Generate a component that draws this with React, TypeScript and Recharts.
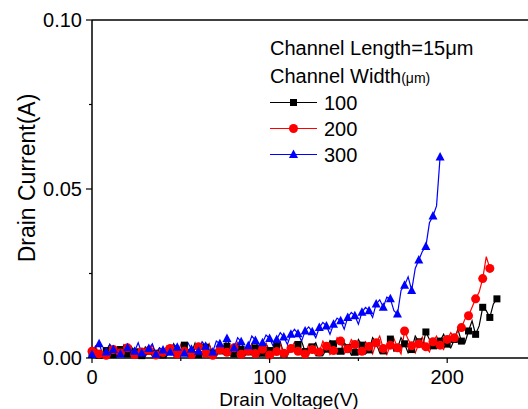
import React from "react";
import { LineChart, Line, XAxis, YAxis } from "recharts";

// drain voltage (V), shared sweep in 2 V steps
const voltage = [
  0, 2, 4, 6, 8, 10, 12, 14, 16, 18, 20, 22, 24, 26, 28, 30, 32, 34, 36, 38,
  40, 42, 44, 46, 48, 50, 52, 54, 56, 58, 60, 62, 64, 66, 68, 70, 72, 74, 76, 78,
  80, 82, 84, 86, 88, 90, 92, 94, 96, 98, 100, 102, 104, 106, 108, 110, 112, 114,
  116, 118, 120, 122, 124, 126, 128, 130, 132, 134, 136, 138, 140, 142, 144, 146,
  148, 150, 152, 154, 156, 158, 160, 162, 164, 166, 168, 170, 172, 174, 176, 178,
  180, 182, 184, 186, 188, 190, 192, 194, 196, 198, 200, 202, 204, 206, 208, 210,
  212, 214, 216, 218, 220, 222, 224, 226, 228,
];

// drain current (A) for each channel width (um)
const width100 = [
  0.0015, 0.003, 0.0008, 0.0005, 0.0022, 0.004, 0.001, 0.0006, 0.0025, 0.0028,
  0.0012, 0.0035, 0.0018, 0.0004, 0.0007, 0.0033, 0.002, 0.0006, 0.0014, 0.003,
  0.0009, 0.0005, 0.0024, 0.0042, 0.0011, 0.0008, 0.0038, 0.0026, 0.0016, 0.0044,
  0.001, 0.0006, 0.0032, 0.004, 0.0015, 0.0007, 0.0021, 0.0012, 0.0035, 0.003,
  0.0012, 0.0045, 0.0026, 0.0008, 0.0018, 0.004, 0.003, 0.0006, 0.0014, 0.0042,
  0.0022, 0.001, 0.0036, 0.0048, 0.0012, 0.0008, 0.0028, 0.0022, 0.004, 0.005,
  0.0019, 0.001, 0.0033, 0.0045, 0.0015, 0.0008, 0.0026, 0.0052, 0.0042, 0.0012,
  0.002, 0.0046, 0.0031, 0.0009, 0.0017, 0.0055, 0.0038, 0.0012, 0.0024, 0.006,
  0.0045, 0.0015, 0.0021, 0.0035, 0.0056, 0.002, 0.003, 0.006, 0.0042, 0.0015,
  0.0025, 0.0065, 0.0048, 0.003, 0.0077, 0.0055, 0.0036, 0.0028, 0.005, 0.007,
  0.0041, 0.003, 0.0055, 0.0085, 0.005, 0.0045, 0.008, 0.011, 0.007, 0.0095,
  0.015, 0.014, 0.012, 0.016, 0.0175,
];
const width200 = [
  0.002, 0.0035, 0.0012, 0.0006, 0.0008, 0.003, 0.0025, 0.0005, 0.0015, 0.004,
  0.003, 0.0008, 0.001, 0.0028, 0.0018, 0.0004, 0.0022, 0.0038, 0.0009, 0.0006,
  0.0016, 0.0035, 0.0028, 0.0007, 0.0012, 0.004, 0.002, 0.0005, 0.001, 0.003,
  0.0033, 0.0008, 0.0014, 0.0042, 0.0008, 0.0005, 0.0024, 0.0036, 0.0017, 0.0006,
  0.003, 0.0045, 0.0011, 0.0005, 0.0021, 0.0038, 0.0013, 0.0007, 0.0026, 0.0044,
  0.0009, 0.0005, 0.0019, 0.004, 0.0014, 0.0006, 0.0028, 0.0046, 0.002, 0.0008,
  0.0012, 0.004, 0.0025, 0.0007, 0.0018, 0.005, 0.0035, 0.001, 0.0022, 0.006,
  0.005, 0.0012, 0.0027, 0.0055, 0.004, 0.001, 0.002, 0.0048, 0.0034, 0.0012,
  0.0045, 0.0065, 0.0028, 0.001, 0.0038, 0.0058, 0.003, 0.0012, 0.008, 0.0055,
  0.0036, 0.0015, 0.0042, 0.0062, 0.0033, 0.0018, 0.0048, 0.0065, 0.0038, 0.0025,
  0.0055, 0.0075, 0.006, 0.008, 0.009, 0.0115, 0.0125, 0.015, 0.0175, 0.0195,
  0.0235, 0.03, 0.0265,
];
const width300 = [
  0.001, 0.0035, 0.0042, 0.0012, 0.0018, 0.004, 0.0025, 0.0008, 0.0012, 0.0038,
  0.003, 0.001, 0.002, 0.0045, 0.0015, 0.0006, 0.0028, 0.0042, 0.0011, 0.003,
  0.0024, 0.0008, 0.0017, 0.004, 0.0032, 0.0012, 0.0014, 0.0045, 0.0026, 0.001,
  0.002, 0.0048, 0.0035, 0.0012, 0.0018, 0.005, 0.0042, 0.0015, 0.0058, 0.003,
  0.003, 0.006, 0.0048, 0.002, 0.0036, 0.0065, 0.0052, 0.0025, 0.0045, 0.0068,
  0.0058, 0.0035, 0.0055, 0.0075, 0.0062, 0.004, 0.007, 0.0085, 0.0072, 0.005,
  0.008, 0.0092, 0.0078, 0.006, 0.009, 0.0105, 0.0095, 0.007, 0.01, 0.0118,
  0.011, 0.0085, 0.012, 0.0135, 0.0125, 0.01, 0.0135, 0.015, 0.014, 0.012,
  0.016, 0.0172, 0.015, 0.018, 0.0175, 0.014, 0.013, 0.02, 0.0215, 0.024,
  0.02, 0.0265, 0.029, 0.0315, 0.033, 0.04, 0.042, 0.045, 0.0595,
];

const xTicks = [0, 50, 100, 150, 200, 250];
const xLabels = ["0", "", "100", "", "200", ""];
const yTicks = [0, 0.025, 0.05, 0.075, 0.1];
const yLabels = ["0.00", "", "0.05", "", "0.10"];

const toPoints = (vals: number[]) => vals.map((i, k) => ({ v: voltage[k], i }));

const FONT = "'Liberation Sans', Arial, sans-serif";
const AXIS_X = 92;
const AXIS_Y = 358;

// markers go on every other sample, like the original plot
const Square = (p: any) =>
  p.index % 2 ? <g key={p.index} /> : (
    <rect key={p.index} x={p.cx - 3.5} y={p.cy - 3.5} width={7} height={7} fill="#000" />
  );
const Dot = (p: any) =>
  p.index % 2 ? <g key={p.index} /> : <circle key={p.index} cx={p.cx} cy={p.cy} r={4.5} fill="#ff0000" />;
const Tri = (p: any) =>
  p.index % 2 ? <g key={p.index} /> : (
    <polygon
      key={p.index}
      points={`${p.cx},${p.cy - 5} ${p.cx - 4.5},${p.cy + 3.5} ${p.cx + 4.5},${p.cy + 3.5}`}
      fill="#0000ff"
    />
  );

const YTick = (props: any) => {
  const idx = yTicks.indexOf(props.payload.value);
  const label = yLabels[idx] || "";
  const len = label ? 6 : 3;
  return (
    <g>
      <line x1={AXIS_X - len} x2={AXIS_X} y1={props.y} y2={props.y} stroke="#000" strokeWidth={1.2} />
      {label && (
        <text x={AXIS_X - 10} y={props.y} textAnchor="end" dominantBaseline="central" fontSize={20} fontFamily={FONT} fill="#000">
          {label}
        </text>
      )}
    </g>
  );
};

const XTick = (props: any) => {
  const idx = xTicks.indexOf(props.payload.value);
  const label = xLabels[idx] || "";
  const len = label ? 5 : 3;
  return (
    <g>
      <line x1={props.x} x2={props.x} y1={AXIS_Y} y2={AXIS_Y + len} stroke="#000" strokeWidth={1.2} />
      {label && (
        <text x={props.x} y={AXIS_Y + 26} textAnchor="middle" fontSize={20} fontFamily={FONT} fill="#000">
          {label}
        </text>
      )}
    </g>
  );
};

const legendRows = [
  { label: "100", color: "#000", y: 102.5, Marker: Square },
  { label: "200", color: "#ff0000", y: 128.5, Marker: Dot },
  { label: "300", color: "#0000ff", y: 154.5, Marker: Tri },
];

export default function App() {
  return (
    <div style={{ position: "relative", width: 528, height: 409, overflow: "hidden", background: "#fff" }}>
      <style>{`body{margin:0}`}</style>
      <LineChart width={536} height={409} margin={{ top: 20, right: 0, left: 0, bottom: 0 }}>
        <XAxis
          type="number"
          dataKey="v"
          domain={[0, 250]}
          ticks={xTicks}
          height={51}
          tickLine={false}
          tickSize={0}
          axisLine={{ stroke: "#000", strokeWidth: 1.5 }}
          tick={<XTick />}
          interval={0}
        />
        <YAxis
          type="number"
          dataKey="i"
          domain={[0, 0.1]}
          ticks={yTicks}
          width={92}
          tickLine={false}
          tickSize={0}
          axisLine={{ stroke: "#000", strokeWidth: 1.5 }}
          tick={<YTick />}
          interval={0}
        />
        <Line data={toPoints(width100)} dataKey="i" stroke="#000" strokeWidth={1.2} dot={Square} isAnimationActive={false} />
        <Line data={toPoints(width200)} dataKey="i" stroke="#ff0000" strokeWidth={1.2} dot={Dot} isAnimationActive={false} />
        <Line data={toPoints(width300)} dataKey="i" stroke="#0000ff" strokeWidth={1.2} dot={Tri} isAnimationActive={false} />
      </LineChart>
      <svg width={528} height={409} style={{ position: "absolute", left: 0, top: 0, pointerEvents: "none" }}>
        <line x1={AXIS_X} x2={528} y1={20} y2={20} stroke="#000" strokeWidth={1.5} />
        <text
          transform="translate(27,178) rotate(-90)"
          textAnchor="middle"
          dominantBaseline="central"
          fontSize={23}
          fontFamily={FONT}
        >
          Drain  Current(A)
        </text>
        <text x={289} y={405.5} textAnchor="middle" fontSize={19} fontFamily={FONT}>
          Drain Voltage(V)
        </text>
        <text x={270} y={55} fontSize={20} fontFamily={FONT}>
          Channel Length=15μm
        </text>
        <text x={270} y={83} fontSize={20} fontFamily={FONT}>
          Channel Width<tspan fontSize={14}>(μm)</tspan>
        </text>
        {legendRows.map((r) => (
          <g key={r.label}>
            <line x1={270} x2={317} y1={r.y} y2={r.y} stroke={r.color} strokeWidth={1} />
            {r.Marker({ cx: 293.5, cy: r.y, index: 0 })}
            <text x={324} y={r.y} dominantBaseline="central" fontSize={20} fontFamily={FONT}>
              {r.label}
            </text>
          </g>
        ))}
      </svg>
    </div>
  );
}
